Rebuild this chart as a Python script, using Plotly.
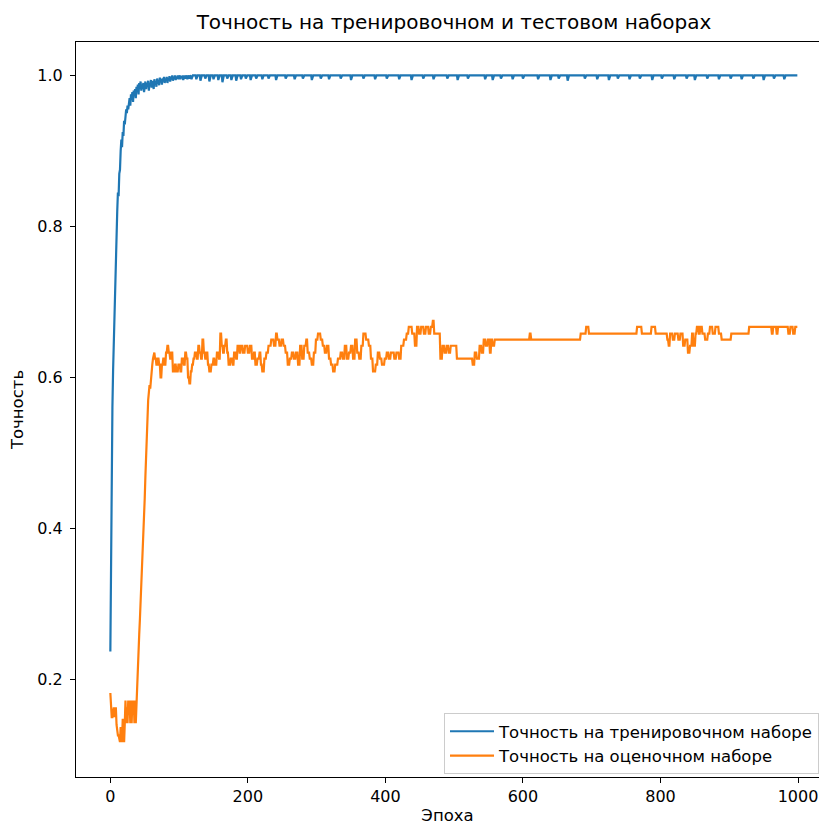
import plotly.graph_objects as go

# ---------------- data ----------------
n_epochs = 1000

# training accuracy, first 120 epochs (one value per epoch)
train_head = [
    0.237, 0.40, 0.50, 0.56, 0.61, 0.65, 0.70, 0.74, 0.77, 0.80,
    0.82, 0.845, 0.84, 0.87, 0.875, 0.90, 0.915, 0.905, 0.925, 0.92,
    0.94, 0.935, 0.945, 0.955, 0.95, 0.96, 0.955, 0.965, 0.97, 0.96,
    0.975, 0.97, 0.978, 0.965, 0.98, 0.975, 0.982, 0.97, 0.985, 0.98,
    0.988, 0.975, 0.99, 0.985, 0.992, 0.98, 0.988, 0.985, 0.99, 0.978,
    0.988, 0.992, 0.982, 0.99, 0.985, 0.993, 0.98, 0.99, 0.986, 0.994,
    0.984, 0.99, 0.993, 0.982, 0.995, 0.988, 0.992, 0.985, 0.996, 0.99,
    0.993, 0.987, 0.997, 0.991, 0.995, 0.988, 0.996, 0.992, 0.998, 0.99,
    0.995, 0.993, 0.998, 0.99, 0.996, 0.994, 0.999, 0.992, 0.997, 0.995,
    1.0, 0.993, 0.997, 0.996, 1.0, 0.994, 0.998, 0.996, 1.0, 0.995,
    0.998, 1.0, 0.995, 0.999, 0.997, 1.0, 0.994, 0.999, 1.0, 0.996,
    0.999, 1.0, 0.995, 1.0, 0.998, 0.996, 1.0, 0.999, 0.995, 1.0,
]
train_plateau = 1.0
# small dips of the training accuracy after epoch 120
train_dip_epochs = [125, 131, 138, 144, 150, 157, 163, 170, 176, 183, 190, 197,
                    204, 212, 221, 230, 241, 255, 268, 280, 293, 306, 318, 335,
                    350, 368, 385, 402, 420, 438, 455, 470, 490, 505, 520, 545,
                    556, 568, 585, 600, 622, 640, 652, 665, 690, 708, 725, 738,
                    755, 770, 788, 802, 820, 838, 850, 868, 885, 902, 918, 935,
                    950, 965, 980]
train_dip_values = [0.995, 0.993, 0.996, 0.992, 0.995, 0.994, 0.991, 0.996, 0.994,
                    0.993, 0.995, 0.996, 0.994, 0.996, 0.995, 0.996, 0.994, 0.996,
                    0.995, 0.996, 0.994, 0.996, 0.995, 0.996, 0.994, 0.996, 0.995,
                    0.996, 0.995, 0.994, 0.996, 0.995, 0.996, 0.994, 0.996, 0.995,
                    0.994, 0.996, 0.995, 0.996, 0.995, 0.994, 0.996, 0.993, 0.996,
                    0.995, 0.994, 0.996, 0.995, 0.996, 0.994, 0.996, 0.995, 0.996,
                    0.994, 0.996, 0.995, 0.996, 0.995, 0.996, 0.994, 0.996, 0.995]

# validation accuracy, first 61 epochs (one value per epoch)
val_head = [
    0.182, 0.15, 0.15, 0.15, 0.163, 0.163, 0.15, 0.163, 0.163, 0.14,
    0.126, 0.126, 0.126, 0.117, 0.117, 0.137, 0.126, 0.117, 0.148, 0.137,
    0.117, 0.142, 0.172, 0.142, 0.163, 0.142, 0.172, 0.155, 0.172, 0.142,
    0.172, 0.142, 0.172, 0.155, 0.172, 0.142, 0.172, 0.142, 0.172, 0.172,
    0.20, 0.23, 0.26, 0.28, 0.30, 0.32, 0.34, 0.36, 0.38, 0.41,
    0.44, 0.47, 0.50, 0.53, 0.55, 0.57, 0.58, 0.59, 0.585, 0.60,
    0.605,
]
# validation accuracy after epoch 60: value holds from each listed epoch on
val_step_epochs = [61, 62, 63, 65, 67, 69, 71, 73, 75, 77, 79, 81, 83, 85, 87, 89,
                   91, 94, 96, 99, 102, 104, 107, 109, 111, 113, 115, 117, 119, 121,
                   123, 126, 128, 130, 132, 134, 136, 138, 140, 142, 144, 147, 150,
                   152, 155, 158, 160, 162, 164, 166, 168, 170, 172, 175, 178, 180,
                   183, 185, 188, 190, 193, 196, 200, 203, 206, 209, 211, 214, 217,
                   219, 221, 224, 227, 230, 234, 238, 241, 243, 246, 249, 252, 255,
                   258, 261, 264, 267, 270, 273, 276, 279, 282, 285, 287, 290, 293,
                   296, 299, 302, 306, 309, 312, 315, 318, 321, 324, 327, 331, 335,
                   338, 341, 344, 347, 350, 353, 356, 359, 362, 365, 368, 372, 376,
                   379, 382, 386, 389, 392, 395, 399, 402, 405, 408, 413, 416, 420,
                   423, 427, 431, 434, 439, 443, 446, 449, 452, 456, 459, 463, 466,
                   469, 471, 480, 483, 486, 489, 492, 495, 504, 527, 530, 533, 537,
                   540, 543, 546, 549, 552, 554, 556, 559, 610, 612, 684, 692, 696,
                   766, 773, 787, 793, 810, 812, 814, 818, 821, 826, 829, 833, 836,
                   840, 843, 846, 848, 851, 853, 856, 858, 861, 865, 869, 872, 876,
                   880, 885, 889, 903, 929, 962, 964, 969, 971, 986, 989, 993, 996]
val_step_values = [0.617, 0.625, 0.633, 0.625, 0.617, 0.625, 0.617, 0.600, 0.617,
                   0.625, 0.617, 0.633, 0.642, 0.633, 0.625, 0.633, 0.608, 0.617,
                   0.608, 0.617, 0.608, 0.625, 0.617, 0.633, 0.625, 0.600, 0.592,
                   0.608, 0.617, 0.625, 0.633, 0.625, 0.642, 0.633, 0.625, 0.650,
                   0.633, 0.625, 0.633, 0.617, 0.608, 0.617, 0.625, 0.617, 0.633,
                   0.625, 0.658, 0.642, 0.633, 0.642, 0.650, 0.633, 0.617, 0.625,
                   0.617, 0.633, 0.625, 0.642, 0.633, 0.642, 0.633, 0.642, 0.633,
                   0.642, 0.625, 0.633, 0.617, 0.625, 0.633, 0.617, 0.608, 0.625,
                   0.633, 0.642, 0.650, 0.642, 0.658, 0.650, 0.642, 0.650, 0.642,
                   0.633, 0.617, 0.625, 0.633, 0.625, 0.633, 0.617, 0.642, 0.625,
                   0.642, 0.650, 0.633, 0.625, 0.617, 0.633, 0.650, 0.658, 0.650,
                   0.642, 0.633, 0.642, 0.625, 0.617, 0.608, 0.617, 0.625, 0.633,
                   0.625, 0.642, 0.625, 0.633, 0.642, 0.625, 0.650, 0.633, 0.625,
                   0.642, 0.658, 0.650, 0.642, 0.625, 0.608, 0.617, 0.633, 0.625,
                   0.617, 0.625, 0.633, 0.625, 0.633, 0.625, 0.633, 0.625, 0.642,
                   0.650, 0.658, 0.667, 0.658, 0.642, 0.667, 0.658, 0.667, 0.658,
                   0.667, 0.658, 0.667, 0.675, 0.658, 0.625, 0.642, 0.633, 0.642,
                   0.633, 0.642, 0.625, 0.617, 0.633, 0.625, 0.642, 0.633, 0.650,
                   0.642, 0.650, 0.633, 0.650, 0.642, 0.650, 0.658, 0.650, 0.658,
                   0.667, 0.658, 0.667, 0.658, 0.667, 0.658, 0.650, 0.642, 0.658,
                   0.650, 0.658, 0.650, 0.658, 0.642, 0.650, 0.633, 0.642, 0.658,
                   0.642, 0.658, 0.667, 0.658, 0.667, 0.658, 0.650, 0.658, 0.667,
                   0.658, 0.667, 0.658, 0.650, 0.658, 0.667, 0.658, 0.667, 0.658,
                   0.667, 0.658, 0.667, 0.658, 0.667]

x_ticks = [0, 200, 400, 600, 800, 1000]
y_ticks = [0.2, 0.4, 0.6, 0.8, 1.0]

title_text = "Точность на тренировочном и тестовом наборах"
x_title = "Эпоха"
y_title = "Точность"
train_name = "Точность на тренировочном наборе"
val_name = "Точность на оценочном наборе"

# ---------------- build full per-epoch series ----------------
epochs = list(range(n_epochs))

train_acc = list(train_head) + [train_plateau] * (n_epochs - len(train_head))
for e, v in zip(train_dip_epochs, train_dip_values):
    train_acc[e] = v

val_acc = list(val_head)
step_idx = 0
current = val_head[-1]
for e in range(len(val_head), n_epochs):
    while step_idx < len(val_step_epochs) and val_step_epochs[step_idx] <= e:
        current = val_step_values[step_idx]
        step_idx += 1
    val_acc.append(current)

# ---------------- figure ----------------
FONT = "DejaVu Sans"
TXT = 16
fig = go.Figure()
fig.add_trace(go.Scatter(x=epochs, y=train_acc, mode="lines", name=train_name,
                         line=dict(color="#1f77b4", width=2.2)))
fig.add_trace(go.Scatter(x=epochs, y=val_acc, mode="lines", name=val_name,
                         line=dict(color="#ff7f0e", width=2.2)))

left, right, top, bottom = 76, 0, 42, 50
fig.update_layout(
    width=819, height=827,
    margin=dict(l=left, r=right, t=top, b=bottom, autoexpand=False),
    paper_bgcolor="white", plot_bgcolor="white",
    font=dict(family=FONT, size=TXT, color="#000000"),
    title=dict(text=title_text, x=454 / 819, xref="container", xanchor="center",
               y=1 - 22 / 827, yref="container", yanchor="middle",
               font=dict(family=FONT, size=20, color="#000000")),
    showlegend=True,
    legend=dict(x=(444 - left) / (819 - left), y=(777 - 713) / (827 - top - bottom),
                xanchor="left", yanchor="top",
                bgcolor="rgba(255,255,255,0.8)", bordercolor="#cccccc", borderwidth=1,
                font=dict(family=FONT, size=16.5, color="#000000"),
                itemwidth=44, entrywidth=345, entrywidthmode="pixels"),
)
fig.update_xaxes(range=[-49.95, 1030.5], tickvals=x_ticks, ticks="outside", ticklen=5,
                 tickcolor="#000000", showline=True, linecolor="#000000", linewidth=1,
                 mirror=True, showgrid=False, zeroline=False,
                 title=dict(text=x_title, standoff=4, font=dict(family=FONT, size=16.5)),
                 tickfont=dict(family=FONT, size=TXT, color="#000000"))
fig.update_yaxes(range=[0.0708, 1.0443], tickvals=y_ticks, tickformat=".1f",
                 ticks="outside", ticklen=5, tickcolor="#000000", showline=True,
                 linecolor="#000000", linewidth=1, mirror=False, showgrid=False,
                 zeroline=False, ticklabelstandoff=4,
                 title=dict(text=y_title, standoff=9, font=dict(family=FONT, size=16.5)),
                 tickfont=dict(family=FONT, size=TXT, color="#000000"))

fig.write_html(
    "out.html",
    config={"displayModeBar": False},
    post_script="document.body.style.margin='0';document.body.style.overflow='hidden';",
)
